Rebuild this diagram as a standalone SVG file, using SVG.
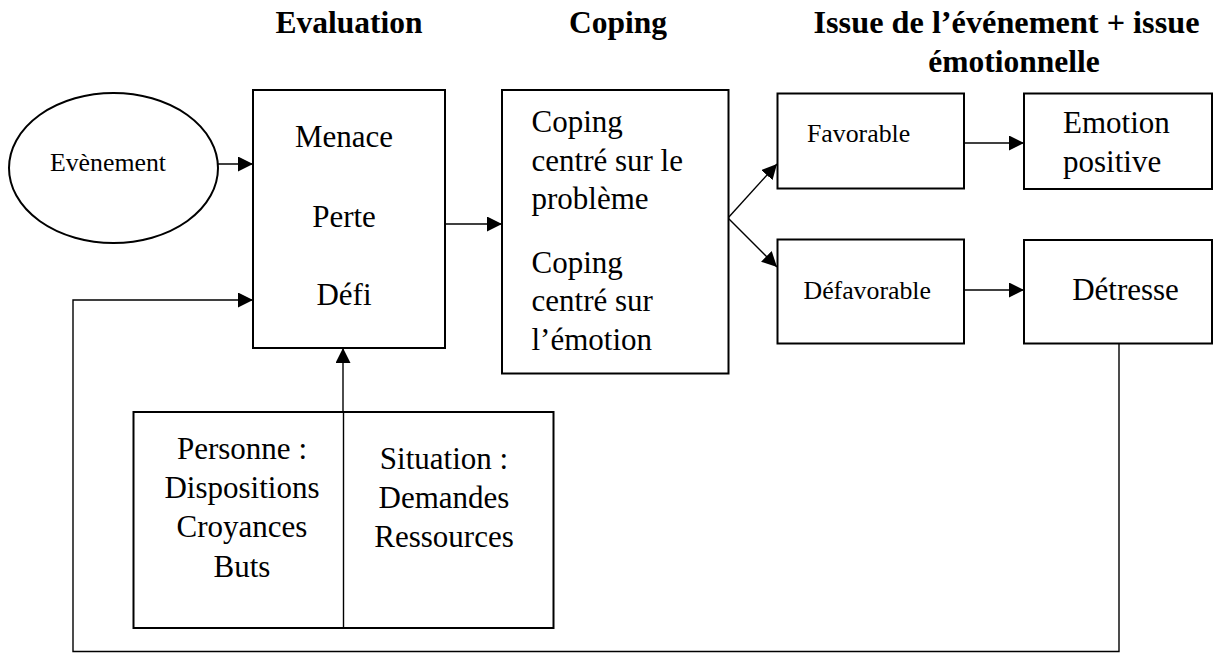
<svg xmlns="http://www.w3.org/2000/svg" width="1213" height="653" viewBox="0 0 1213 653" font-family="Liberation Serif, serif">
<style>
.box{fill:#fff;stroke:#000;stroke-width:2}
.ln{fill:none;stroke:#000;stroke-width:1.4}
text{font-family:"Liberation Serif",serif;fill:#000}
.t{font-size:31px}
.s{font-size:25.8px}
.h{font-size:31.5px;font-weight:bold}
.c{text-anchor:middle}
</style>
<defs>
<marker id="ah" markerUnits="userSpaceOnUse" markerWidth="16" markerHeight="16" refX="15" refY="7.5" orient="auto">
<path d="M0,0 L15,7.5 L0,15 z" fill="#000"/>
</marker>
</defs>
<g id="headers">
<text class="h c" x="349" y="33">Evaluation</text>
<text class="h c" x="618" y="33">Coping</text>
<text class="h c" x="1006.5" y="33" textLength="386" lengthAdjust="spacingAndGlyphs">Issue de l’événement + issue</text>
<text class="h c" x="1014" y="72">émotionnelle</text>
</g>
<g id="connectors">
<line class="ln" x1="218" y1="164" x2="253" y2="164" marker-end="url(#ah)"/>
<polyline class="ln" points="1119,343 1119,651.5 73,651.5 73,300 253,300" marker-end="url(#ah)"/>
<line class="ln" x1="445" y1="224" x2="502" y2="224" marker-end="url(#ah)"/>
<line class="ln" x1="343" y1="412" x2="343" y2="348" marker-end="url(#ah)"/>
<line class="ln" x1="728" y1="218" x2="777" y2="164" marker-end="url(#ah)"/>
<line class="ln" x1="728" y1="218" x2="777" y2="267" marker-end="url(#ah)"/>
<line class="ln" x1="964" y1="143" x2="1024" y2="143" marker-end="url(#ah)"/>
<line class="ln" x1="964" y1="290" x2="1024" y2="290" marker-end="url(#ah)"/>
</g>
<g id="evenement">
<ellipse class="box" cx="113.5" cy="168" rx="104.5" ry="75"/>
<text class="s c" x="108" y="171" font-size="26.5">Evènement</text>
</g>
<g id="evaluation">
<rect class="box" x="253" y="90" width="192" height="258"/>
<text class="t c" x="344" y="147">Menace</text>
<text class="t c" x="344" y="227">Perte</text>
<text class="t c" x="344" y="305">Défi</text>
</g>
<g id="coping">
<rect class="box" x="502" y="90" width="226.5" height="283.5"/>
<text class="t" x="531.5" y="132">Coping</text>
<text class="t" x="531.5" y="171">centré sur le</text>
<text class="t" x="531.5" y="209">problème</text>
<text class="t" x="531.5" y="273">Coping</text>
<text class="t" x="531.5" y="311">centré sur</text>
<text class="t" x="531.5" y="350">l’émotion</text>
</g>
<g id="favorable">
<rect class="box" x="777.5" y="93.5" width="186.5" height="95"/>
<text class="s" x="807" y="142">Favorable</text>
</g>
<g id="defavorable">
<rect class="box" x="777.5" y="239.5" width="186.5" height="104"/>
<text class="s" x="803.5" y="299">Défavorable</text>
</g>
<g id="emotion-positive">
<rect class="box" x="1024" y="93.5" width="188" height="95.5"/>
<text class="t" x="1063" y="133">Emotion</text>
<text class="t" x="1063" y="172">positive</text>
</g>
<g id="detresse">
<rect class="box" x="1024" y="240" width="188" height="103.5"/>
<text class="t c" x="1125.5" y="300">Détresse</text>
</g>
<g id="personne-situation">
<rect class="box" x="133.5" y="412" width="420" height="216"/>
<line class="ln" x1="343.5" y1="412" x2="343.5" y2="628"/>
<text class="t c" x="242" y="459">Personne :</text>
<text class="t c" x="242" y="497.5">Dispositions</text>
<text class="t c" x="242" y="537">Croyances</text>
<text class="t c" x="242" y="577">Buts</text>
<text class="t c" x="444" y="468.5">Situation :</text>
<text class="t c" x="444" y="508">Demandes</text>
<text class="t c" x="444" y="547">Ressources</text>
</g>
</svg>
